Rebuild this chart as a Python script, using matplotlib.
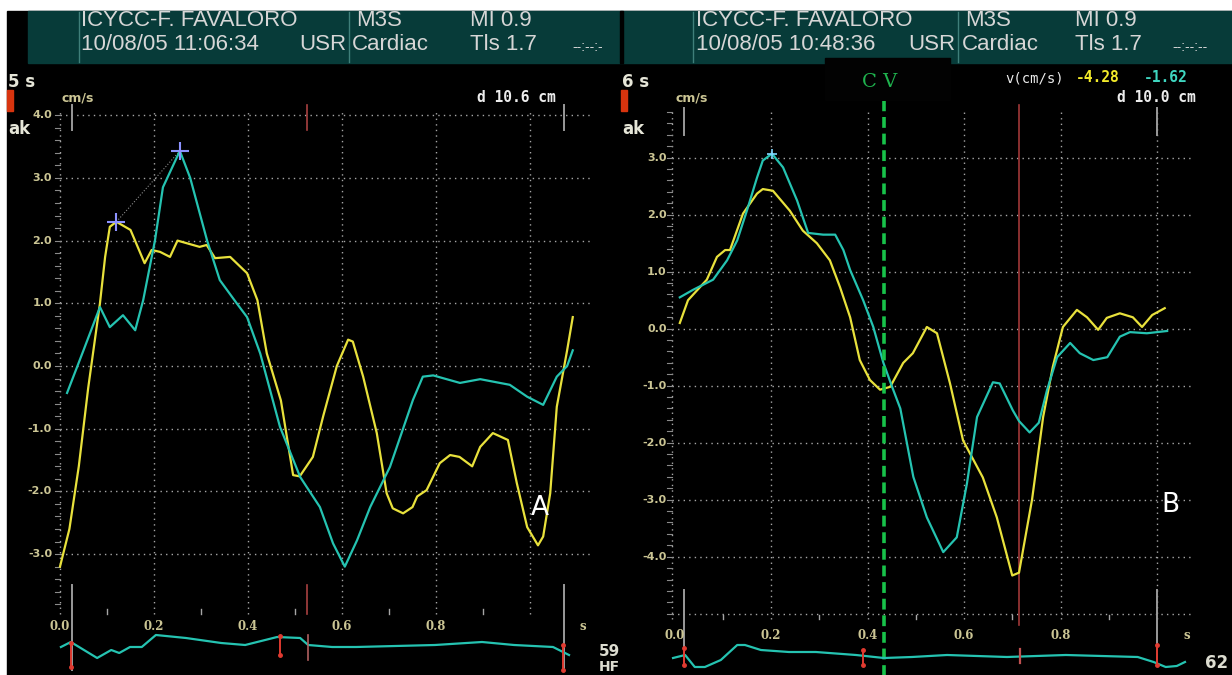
import numpy as np
import matplotlib.pyplot as plt

W, H = 1232, 675

# panel A velocity traces: time (s), velocity (cm/s)
tA_yel = [0.0, 0.02, 0.04, 0.06, 0.085, 0.096, 0.106, 0.12, 0.15, 0.18, 0.195, 0.213, 0.234,
          0.25, 0.297, 0.312, 0.33, 0.362, 0.398, 0.42, 0.44, 0.47, 0.496, 0.51, 0.538, 0.56,
          0.589, 0.613, 0.623, 0.645, 0.674, 0.695, 0.708, 0.73, 0.75, 0.76, 0.78, 0.808, 0.83,
          0.85, 0.877, 0.894, 0.921, 0.953, 0.972, 0.994, 1.017, 1.028, 1.043, 1.057, 1.079, 1.091]
vA_yel = [-3.2, -2.6, -1.6, -0.35, 1.0, 1.74, 2.22, 2.3, 2.17, 1.64, 1.85, 1.82, 1.74,
          2.0, 1.9, 1.93, 1.72, 1.74, 1.48, 1.05, 0.2, -0.55, -1.74, -1.76, -1.45, -0.8,
          0.0, 0.42, 0.39, -0.17, -1.07, -2.03, -2.27, -2.35, -2.25, -2.08, -1.98, -1.55, -1.42,
          -1.45, -1.6, -1.29, -1.07, -1.18, -1.87, -2.57, -2.86, -2.72, -2.03, -0.65, 0.25, 0.78]

tA_teal = [0.015, 0.05, 0.085, 0.106, 0.134, 0.16, 0.177, 0.202, 0.219, 0.255, 0.277, 0.313,
           0.34, 0.376, 0.398, 0.426, 0.468, 0.511, 0.553, 0.581, 0.606, 0.632, 0.66, 0.702,
           0.751, 0.772, 0.794, 0.851, 0.894, 0.957, 0.994, 1.028, 1.057, 1.079, 1.091]
vA_teal = [-0.43, 0.25, 0.94, 0.62, 0.81, 0.57, 1.05, 2.0, 2.85, 3.43, 3.0, 2.0,
           1.37, 1.0, 0.78, 0.2, -0.97, -1.77, -2.25, -2.83, -3.2, -2.78, -2.25, -1.61,
           -0.54, -0.17, -0.15, -0.27, -0.21, -0.3, -0.49, -0.62, -0.17, 0.0, 0.25]

# panel B velocity traces
tB_yel = [0.011, 0.028, 0.067, 0.088, 0.105, 0.115, 0.142, 0.171, 0.183, 0.204, 0.239, 0.266,
          0.295, 0.322, 0.343, 0.364, 0.384, 0.405, 0.426, 0.447, 0.474, 0.494, 0.523, 0.544,
          0.571, 0.598, 0.639, 0.668, 0.7, 0.714, 0.741, 0.764, 0.784, 0.805, 0.834, 0.855,
          0.878, 0.896, 0.923, 0.95, 0.969, 0.99, 1.016]
vB_yel = [0.1, 0.5, 0.86, 1.26, 1.38, 1.38, 2.02, 2.37, 2.45, 2.42, 2.07, 1.72,
          1.5, 1.2, 0.73, 0.2, -0.55, -0.9, -1.07, -1.02, -0.6, -0.43, 0.03, -0.08,
          -0.96, -1.96, -2.61, -3.31, -4.33, -4.28, -3.0, -1.55, -0.67, 0.03, 0.33, 0.2,
          -0.02, 0.19, 0.27, 0.2, 0.03, 0.24, 0.36]

tB_teal = [0.011, 0.038, 0.08, 0.109, 0.13, 0.15, 0.171, 0.183, 0.202, 0.225, 0.254, 0.277,
           0.308, 0.333, 0.35, 0.364, 0.391, 0.412, 0.433, 0.451, 0.468, 0.495, 0.523, 0.557,
           0.585, 0.606, 0.627, 0.66, 0.674, 0.701, 0.714, 0.736, 0.755, 0.772, 0.793, 0.82,
           0.84, 0.868, 0.897, 0.923, 0.944, 0.979, 1.021]
vB_teal = [0.55, 0.68, 0.86, 1.2, 1.55, 2.07, 2.65, 2.95, 3.07, 2.83, 2.25, 1.68,
           1.65, 1.65, 1.38, 1.03, 0.5, 0.03, -0.6, -1.02, -1.4, -2.6, -3.31, -3.92,
           -3.66, -2.72, -1.55, -0.94, -0.96, -1.43, -1.62, -1.82, -1.65, -1.08, -0.5, -0.25,
           -0.43, -0.55, -0.5, -0.14, -0.06, -0.08, -0.04]

# ECG strips (arbitrary amplitude)
tA_ecg = [0.002, 0.023, 0.079, 0.109, 0.126, 0.149, 0.174, 0.204, 0.268, 0.343, 0.394,
          0.462, 0.511, 0.528, 0.579, 0.63, 0.798, 0.898, 0.966, 1.049, 1.083]
A_ecg = [-0.2, 0.3, -1.3, -0.5, -0.8, -0.2, -0.2, 1.0, 0.7, 0.2, 0.0,
         0.8, 0.7, 0.0, -0.2, -0.2, 0.0, 0.3, 0.0, -0.2, -1.0]
tB_ecg = [-0.003, 0.022, 0.042, 0.063, 0.096, 0.13, 0.146, 0.179, 0.237, 0.293, 0.376,
          0.434, 0.492, 0.565, 0.689, 0.811, 0.96, 0.993, 1.018, 1.041, 1.058]
B_ecg = [-0.3, 0.0, -1.2, -1.2, -0.5, 1.0, 1.0, 0.5, 0.3, 0.3, 0.0,
         -0.3, -0.2, 0.0, -0.2, 0.0, -0.2, -0.7, -1.2, -1.1, -0.7]

grid_t = [0.2, 0.4, 0.6, 0.8, 1.0]
xtick_t = [0.0, 0.2, 0.4, 0.6, 0.8]
yticks_A = [4.0, 3.0, 2.0, 1.0, 0.0, -1.0, -2.0, -3.0]
yticks_B = [3.0, 2.0, 1.0, 0.0, -1.0, -2.0, -3.0, -4.0]
cursor_B = 0.714
cv_B = 0.434

YEL = "#e8e13c"
TEAL = "#25c3b1"
KHAKI = "#cbc594"
GRID = "#a6a6a6"
HEAD = "#073b39"
WHITE = "#ececec"
DOT = (0, (1, 3))

plt.rcParams['font.family'] = ['Liberation Sans', 'DejaVu Sans']

fig = plt.figure(figsize=(W / 100, H / 100), dpi=100, facecolor='white')


def px_axes(x0, y0, x1, y1, z):
    ax = fig.add_axes([x0 / W, 1 - y1 / H, (x1 - x0) / W, (y1 - y0) / H], zorder=z)
    ax.set_axis_off()
    return ax


def panel(box, x_org, x_scale, y_org, y_scale):
    x0, y0, x1, y1 = box
    ax = px_axes(x0, y0, x1, y1, 2)
    ax.set_xlim((x0 - x_org) / x_scale, (x1 - x_org) / x_scale)
    ax.set_ylim((y_org - y1) / y_scale, (y_org - y0) / y_scale)
    return ax


def strip(box, x_org, x_scale, lo, hi):
    x0, y0, x1, y1 = box
    ax = px_axes(x0, y0, x1, y1, 3)
    ax.set_xlim((x0 - x_org) / x_scale, (x1 - x_org) / x_scale)
    ax.set_ylim(lo, hi)
    return ax


def grid(ax, yticks, hlines, vbot, vtop, xend, xaxis, lab_x, lab_v, s_t):
    for v in hlines:
        ax.plot([xaxis, xend], [v, v], color=GRID, lw=1, ls=DOT, zorder=1)
    for t in grid_t:
        ax.plot([t, t], [vbot, vtop], color=GRID, lw=1, ls=DOT, zorder=1)
    ax.plot([xaxis, xaxis], [vbot, vtop], color=GRID, lw=1, ls=DOT, zorder=1)
    for v in np.arange(np.ceil(vbot * 5) / 5, vtop, 0.2):
        ax.plot([xaxis - 0.01, xaxis], [v, v], color="#8a8a8a", lw=0.8, zorder=1)
    for t in [0.1, 0.3, 0.5, 0.7, 0.9]:
        ax.plot([t, t], [vbot, vbot + 0.08], color=GRID, lw=1, zorder=1)
    for v in yticks:
        ax.text(lab_x, v, f"{v:.1f}", ha='right', va='center', color=KHAKI,
                fontsize=8, weight='bold', family='DejaVu Sans')
    for t in xtick_t:
        ax.text(t, lab_v, f"{t:.1f}", ha='center', va='center', color=KHAKI,
                fontsize=8.5, weight='bold', family='DejaVu Serif')
    ax.text(s_t, lab_v, "s", ha='center', va='center', color=KHAKI,
            fontsize=8.5, weight='bold', family='DejaVu Serif')


# background, header band
bg = px_axes(0, 0, W, H, 0)
bg.set_xlim(0, W)
bg.set_ylim(H, 0)
bg.add_patch(plt.Rectangle((7, 11), W - 7, H - 11, color='black'))
bg.add_patch(plt.Rectangle((28, 11), W - 28, 52, color=HEAD))
bg.add_patch(plt.Rectangle((619.5, 11), 3, 52, color='black'))
for x in [79, 349, 693, 958]:
    bg.plot([x, x], [12, 62], color='#3f7f7a', lw=1)

hd = dict(color='#d6d6d6', fontsize=16, va='center')
bg.text(81, 21, "ICYCC-F. FAVALORO", **hd)
bg.text(81, 45, "10/08/05 11:06:34", **hd)
bg.text(346, 45, "USR", ha='right', **hd)
bg.text(356, 21, "M3S", **hd)
bg.text(352, 45, "Cardiac", **hd)
bg.text(470, 21, "MI 0.9", **hd)
bg.text(470, 45, "Tls 1.7", **hd)
bg.text(572, 47, "--:--:-", color='#d6d6d6', fontsize=10, va='center')
bg.text(696, 21, "ICYCC-F. FAVALORO", **hd)
bg.text(696, 45, "10/08/05 10:48:36", **hd)
bg.text(955, 45, "USR", ha='right', **hd)
bg.text(965, 21, "M3S", **hd)
bg.text(962, 45, "Cardiac", **hd)
bg.text(1075, 21, "MI 0.9", **hd)
bg.text(1075, 45, "Tls 1.7", **hd)
bg.text(1172, 47, "--:--:--", color='#d6d6d6', fontsize=10, va='center')

# side labels of each panel
for x0, sec in [(7, "5 s"), (621, "6 s")]:
    bg.text(x0 + 1, 82, sec, color='#e6e6d8', fontsize=12, weight='bold', va='center',
            family='DejaVu Sans')
    bg.add_patch(plt.Rectangle((x0, 90), 6, 21, color='#d8340e'))
    bg.text(x0 + 1, 129, "ak", color='#e6e6d8', fontsize=12, weight='bold', va='center',
            family='DejaVu Sans')

mono = dict(color=WHITE, fontsize=10.5, weight='bold', family='DejaVu Sans Mono', va='center')
bg.text(62, 98, "cm/s", color=KHAKI, fontsize=9, weight='bold', va='center', family='DejaVu Sans')
bg.text(676, 98, "cm/s", color=KHAKI, fontsize=9, weight='bold', va='center', family='DejaVu Sans')
bg.text(556, 97, "d 10.6 cm", ha='right', **mono)
bg.text(1196, 97, "d 10.0 cm", ha='right', **mono)

# C V label box
bg.add_patch(plt.Rectangle((825, 58), 125, 42, color='#020202', zorder=3))
bg.text(880, 82, "C V", color='#1fb34e', fontsize=14, family='DejaVu Serif',
        ha='center', va='center', zorder=4)

# readout at the cursor
yel_at = np.interp(cursor_B, tB_yel, vB_yel)
teal_at = np.interp(cursor_B, tB_teal, vB_teal)
bg.text(1005, 78, "v(cm/s)", color=WHITE, fontsize=10, family='DejaVu Sans Mono', va='center')
bg.text(1076, 78, f"{yel_at:.2f}", color='#f2ea2a', fontsize=10.5, weight='bold',
        family='DejaVu Sans Mono', va='center')
bg.text(1144, 78, f"{teal_at:.2f}", color='#3fd6c0', fontsize=10.5, weight='bold',
        family='DejaVu Sans Mono', va='center')
bg.text(1205, 663, "62", color='#dcdcd0', fontsize=12, weight='bold', va='center',
        family='DejaVu Sans')
bg.text(599, 652, "59", color='#dcdcd0', fontsize=11, weight='bold', va='center',
        family='DejaVu Sans', zorder=5)
bg.text(599, 667, "HF", color='#dcdcd0', fontsize=10, weight='bold', va='center',
        family='DejaVu Sans', zorder=5)

# ---- panel A ----
axA = panel((7, 63, 621, 675), 60, 470, 366, 62.7)
grid(axA, yticks_A, yticks_A, -3.95, 4.1, 1.13, 0.0, -0.017, -4.16, 1.113)
for t in [0.026, 1.072]:
    axA.plot([t, t], [3.76, 4.16], color='#9a9a9a', lw=1.4, zorder=2)
    axA.plot([t, t], [-3.49, -4.85], color='#9a9a9a', lw=1.4, zorder=2)
axA.plot([0.526, 0.526], [3.76, 4.16], color='#a84040', lw=1.2, zorder=2)
axA.plot([0.526, 0.526], [-3.49, -3.95], color='#a84040', lw=1.2, zorder=2)

axA.plot(tA_yel, vA_yel, color=YEL, lw=1.6, zorder=3)
axA.plot(tA_teal, vA_teal, color=TEAL, lw=1.6, zorder=4)
iy, it = int(np.argmax(vA_yel)), int(np.argmax(vA_teal))
axA.plot([tA_yel[iy], tA_teal[it]], [vA_yel[iy], vA_teal[it]], color='#8a8a8a', lw=0.8,
         ls=':', zorder=3)
axA.plot([tA_yel[iy], tA_teal[it]], [vA_yel[iy], vA_teal[it]], ls='none', marker='+',
         ms=13, mew=1.5, color='#8c92ff', zorder=5)
axA.text(1.021, -2.27, "A", color='white', fontsize=19, ha='center', va='center',
         family='DejaVu Sans', zorder=6)

ecgA = strip((7, 625, 621, 675), 60, 470, -3.0, 2.0)
ecgA.plot(tA_ecg, A_ecg, color=TEAL, lw=1.6)
for t, lo, hi in [(0.023, -2.2, 0.2), (0.468, -1.0, 0.9), (1.07, -2.5, 0.0)]:
    ecgA.plot([t, t], [lo, hi], color='#e03a30', lw=1.4, marker='o', ms=2.5)
ecgA.plot([0.528, 0.528], [-1.5, 1.0], color='#b06060', lw=1.2)

# ---- panel B ----
axB = panel((621, 63, 1232, 675), 674.5, 482.5, 328.7, 57)
grid(axB, yticks_B, yticks_B + [-5.0], -5.1, 3.87, 1.07, -0.005, -0.016, -5.39, 1.062)
for t in [0.02, 1.0]:
    axB.plot([t, t], [3.39, 3.87], color='#9a9a9a', lw=1.4, zorder=2)
    axB.plot([t, t], [-4.58, -5.9], color='#9a9a9a', lw=1.4, zorder=2)
axB.plot([cursor_B, cursor_B], [-5.2, 3.92], color='#a03838', lw=1.2, zorder=2)

axB.plot(tB_yel, vB_yel, color=YEL, lw=1.6, zorder=3)
axB.plot(tB_teal, vB_teal, color=TEAL, lw=1.6, zorder=4)
ib = int(np.argmax(vB_teal))
axB.plot(tB_teal[ib], vB_teal[ib], marker='+', ms=7, mew=1.2, color='#7fd8ff', zorder=5)
axB.plot([cv_B, cv_B], [-6.1, 4.0], color='#18c24a', lw=2.6, ls=(0, (3, 1.6)), zorder=6)
axB.text(1.027, -3.09, "B", color='white', fontsize=19, ha='center', va='center',
         family='DejaVu Sans', zorder=6)

ecgB = strip((621, 625, 1232, 675), 674.5, 482.5, -2.0, 3.0)
ecgB.plot(tB_ecg, B_ecg, color=TEAL, lw=1.6)
for t, lo, hi in [(0.02, -1.0, 0.7), (0.39, -1.0, 0.5), (1.0, -1.0, 1.0)]:
    ecgB.plot([t, t], [lo, hi], color='#e03a30', lw=1.4, marker='o', ms=2.5)
ecgB.plot([0.716, 0.716], [-0.8, 0.6], color='#c05050', lw=1.6)

fig.savefig("out.png", dpi=100, facecolor='white')
